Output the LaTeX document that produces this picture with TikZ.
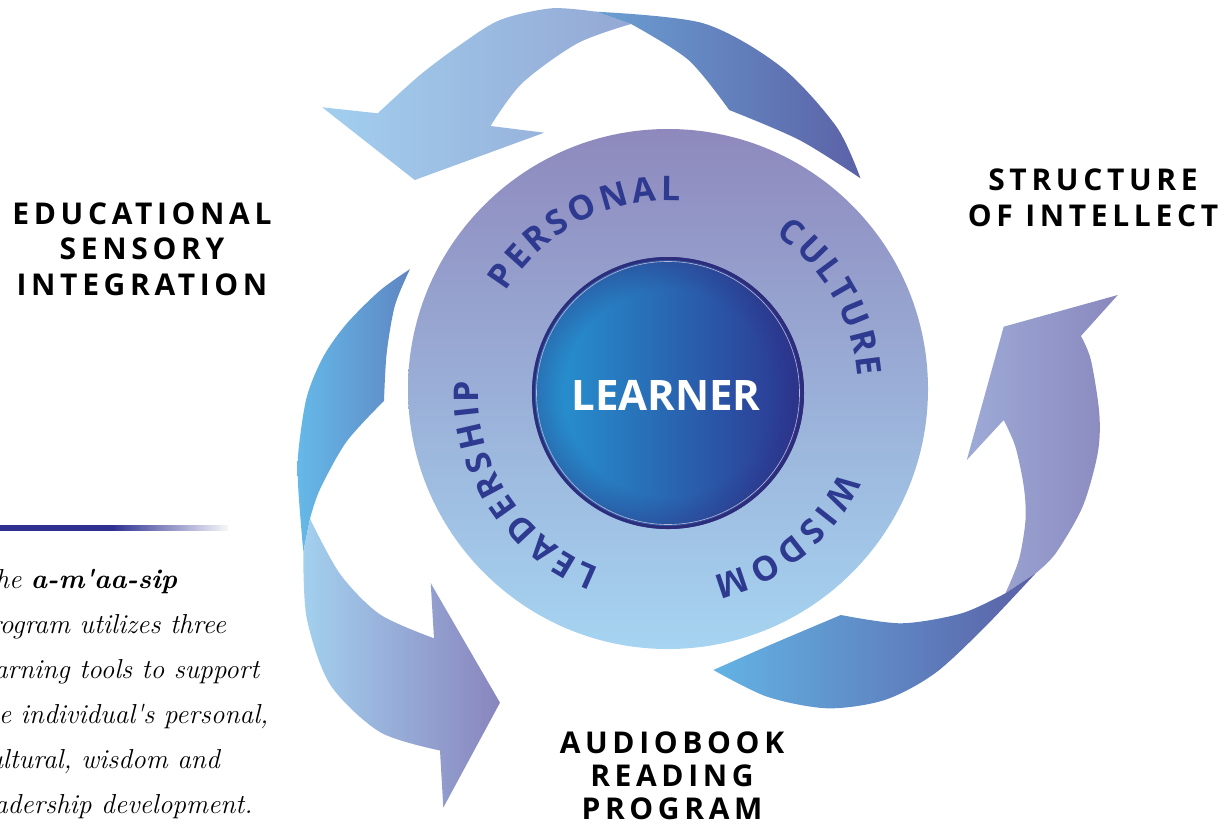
\documentclass[tikz,border=0pt]{standalone}
\usepackage{fontspec}
\usetikzlibrary{decorations.text,fadings}

\newfontfamily\headfont{Open Sans}[LetterSpace=15.5]
\newfontfamily\ringfont{Open Sans}

\definecolor{ringtop}{HTML}{8E89BD}
\definecolor{ringmid}{HTML}{98A9D5}
\definecolor{ringbot}{HTML}{A6D4F1}
\definecolor{ballL}{HTML}{2699D5}
\definecolor{ballM}{HTML}{2A74BB}
\definecolor{ballR}{HTML}{2C3590}
\definecolor{balledge}{HTML}{2E2D7C}
\definecolor{ringtxt}{HTML}{2E3990}
\definecolor{barnavy}{HTML}{2E3192}
\definecolor{topL}{HTML}{A2CFEF}
\definecolor{topR}{HTML}{94A8D4}
\definecolor{topdL}{HTML}{6B9FD2}
\definecolor{topdR}{HTML}{5B62A7}
\definecolor{leftdL}{HTML}{65B9E8}
\definecolor{leftdR}{HTML}{5E86C3}
\definecolor{leftL}{HTML}{A3D0EE}
\definecolor{leftR}{HTML}{8985BE}
\definecolor{rightL}{HTML}{9DAAD6}
\definecolor{rightR}{HTML}{8A88BE}
\definecolor{rightdL}{HTML}{63B3E4}
\definecolor{rightdR}{HTML}{5B60A6}

\pgfdeclareradialshading{rimshade}{\pgfpointorigin}{color(0bp)=(black); color(19bp)=(black); color(25bp)=(white!40!black); color(50bp)=(white!40!black)}
\pgfdeclarefading{rimfade}{\pgfuseshading{rimshade}}

\begin{document}
\begin{tikzpicture}[x=1pt,y=1pt,
  headtxt/.style={anchor=base,inner sep=0pt,text=black,
    font=\headfont\bfseries\fontsize{30}{30}\selectfont},
  bodytxt/.style={anchor=base west,inner sep=0pt,
    font=\itshape\fontsize{27.4}{27.4}\selectfont},
  ringword/.style={decorate,decoration={text along path,text color=ringtxt,
    text align={fit to path},
    text={|\ringfont\bfseries\fontsize{34}{34}\selectfont|#1}}}]
\useasboundingbox (0,0) rectangle (1226,-827);
\clip (0,0) rectangle (1226,-827);

% top arrow
\shade[left color=topL, right color=topR]
  (377.7,-113.3) -- (322.2,-107.3) -- (414.7,-180) -- (544.2,-132.7) -- (490.5,-126)
  -- plot[smooth] coordinates {(490.5,-126) (522,-83.3) (577.5,-43.3) (631.1,-24)}
  -- (596,-11.7)
  -- plot[smooth] coordinates {(596,-11.7) (551.6,-8.3) (500,-20) (460,-45) (420,-75) (377.7,-113.3)} -- cycle;
\shade[left color=topdL, right color=topdR]
  (596,-11.7)
  -- plot[smooth] coordinates {(596,-11.7) (703.3,-23.3) (781,-66.7) (836.4,-126.7) (860.5,-178.3)}
  -- plot[smooth] coordinates {(860.5,-178.3) (799.4,-140) (729.2,-110)}
  -- plot[smooth] coordinates {(729.2,-110) (688.5,-60) (631.1,-24)} -- cycle;

% left arrow
\shade[left color=leftdL, right color=leftdR]
  (410,-269.1)
  -- plot[smooth] coordinates {(410,-269.1) (380,-290.5) (346.7,-323.6) (323.3,-356.7) (306.7,-397.2) (298.3,-452.4) (298.3,-489.2) (303.3,-551.8)}
  -- (310,-518.7)
  -- plot[smooth] coordinates {(310,-518.7) (320,-489.2) (346.7,-441.4) (384,-400.9)}
  -- plot[smooth] coordinates {(384,-400.9) (386.7,-353) (395,-305.2) (410,-269.1)} -- cycle;
\shade[left color=leftL, right color=leftR]
  (303.3,-551.8)
  -- plot[smooth] coordinates {(303.3,-551.8) (306.7,-618) (330,-684.3) (380,-732.1) (440,-750.5)}
  -- (443.3,-807.6) -- (500,-702.7) -- (430.7,-583.1) -- (434,-638.3)
  -- plot[smooth] coordinates {(434,-638.3) (380,-614.4) (340,-573.9) (310,-518.7)} -- cycle;

% right arrow
\shade[left color=rightL, right color=rightR]
  (1003.7,-326.7) -- (1117.8,-295) -- (1080.9,-336)
  -- plot[smooth] coordinates {(1080.9,-336) (1090.9,-360) (1099.3,-413.3) (1097.7,-453.3) (1082.6,-506.7) (1055.7,-553.3) (1035.6,-573.3)}
  -- (1005.4,-593.3)
  -- plot[smooth] coordinates {(1005.4,-593.3) (1018.8,-560) (1025.5,-520) (1023.8,-486.7) (1015.4,-446.7) (1003.7,-420)}
  -- (966.8,-460) -- cycle;
\shade[left color=rightdL, right color=rightdR]
  (1035.6,-573.3)
  -- plot[smooth] coordinates {(1035.6,-573.3) (985.2,-626.7) (934.9,-673.3) (884.6,-700) (827.5,-708.3) (767.1,-696.7) (713.4,-670)}
  -- plot[smooth] coordinates {(713.4,-670) (770,-645) (840.9,-615)}
  -- plot[smooth] coordinates {(840.9,-615) (901.3,-623.3) (961.7,-613.3) (1005.4,-593.3)} -- cycle;

% ring and learner ball
\shade[top color=ringtop, middle color=ringmid, bottom color=ringbot] (668,-389) circle (260);
\shade[left color=ballL, middle color=ballM, right color=ballR] (668,-393) circle (136);
\fill[balledge, path fading=rimfade] (668,-393) circle (136);
\draw[balledge, line width=3pt] (668,-393) circle (134.5);
\draw[ringtop!60!white, line width=0.6pt] (668,-393) circle (131.5);
\node[font=\ringfont\bfseries\fontsize{42}{42}\selectfont, text=white] (learner) at (666,-395) {LEARNER};

% words round the ring
\path[ringword=PERSONAL] (668,-391) ++(148.6:190) arc[start angle=148.6, end angle=86.4, radius=190];
\path[ringword=CULTURE] (668,-391) ++(55.5:190) arc[start angle=55.5, end angle=4.4, radius=190];
\path[ringword=WISDOM] (668,-391) ++(-25.3:190) arc[start angle=-25.3, end angle=-76.3, radius=190];
\path[ringword=LEADERSHIP] (668,-391) ++(-111:190) arc[start angle=-111, end angle=-183.1, radius=190];

% headings
\node[headtxt] (edu1) at (142,-224) {EDUCATIONAL};
\node[headtxt] (edu2) at (142,-259.5) {SENSORY};
\node[headtxt] (edu3) at (142,-295) {INTEGRATION};
\node[headtxt] (soi1) at (1093,-190.7) {STRUCTURE};
\node[headtxt] (soi2) at (1093,-226.7) {OF INTELLECT};
\node[headtxt] (arp1) at (672,-753) {AUDIOBOOK};
\node[headtxt] (arp2) at (672,-786) {READING};
\node[headtxt] (arp3) at (672,-819) {PROGRAM};

% note at the left
\fill[barnavy] (0,-525) rectangle (112,-530.5);
\shade[left color=barnavy, right color=barnavy!4] (112,-525) rectangle (228,-530.5);
\node[bodytxt] (note1) at (-24,-588) {The \textbf{a-m\textquotesingle aa-sip}};
\node[bodytxt] (note2) at (-24,-633) {program utilizes three};
\node[bodytxt] (note3) at (-24,-678) {learning tools to support};
\node[bodytxt] (note4) at (-24,-723) {the individual\textquotesingle s personal,};
\node[bodytxt] (note5) at (-24,-768) {cultural, wisdom and};
\node[bodytxt] (note6) at (-24,-813) {leadership development.};
\end{tikzpicture}
\end{document}
